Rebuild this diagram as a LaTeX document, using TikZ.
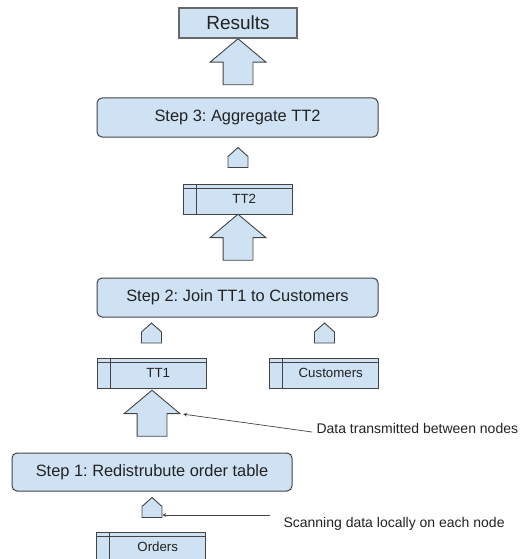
\documentclass[tikz,border=0pt]{standalone}
\usepackage{fontspec}
\setmainfont{Liberation Sans}
\frenchspacing
\usetikzlibrary{shapes.arrows}
\definecolor{boxblue}{HTML}{CFE2F3}
\definecolor{edgegray}{HTML}{434343}
\definecolor{textgray}{HTML}{222222}

\tikzset{
	stepbox/.style={draw=edgegray, fill=boxblue, line width=1pt, rounded corners=5pt,
		minimum width=281pt, minimum height=39pt, text=textgray,
		font=\fontsize{16.4}{19}\selectfont},
	tablebox/.style={draw=edgegray, fill=boxblue, line width=0.9pt,
		minimum width=109pt, minimum height=30pt, text=textgray,
		font=\fontsize{13.3}{16}\selectfont},
	bigup/.style={single arrow, shape border rotate=90, draw=edgegray, fill=boxblue,
		line width=0.9pt, inner sep=14.5pt, minimum height=46pt, minimum width=55pt,
		single arrow head extend=13pt, single arrow tip angle=100},
	smallup/.style={single arrow, shape border rotate=90, draw=edgegray, fill=boxblue,
		line width=0.9pt, inner sep=0pt, minimum height=20pt, minimum width=20pt,
		single arrow head extend=0pt, single arrow tip angle=96},
	note/.style={anchor=west, text=textgray, font=\fontsize{14}{17}\selectfont},
}

\begin{document}
\begin{tikzpicture}[>=stealth, x=1pt, y=-1pt]
	\useasboundingbox (0,0) rectangle (522,559);

	\node[draw=edgegray!80, fill=boxblue, line width=1.3pt, minimum width=118pt, minimum height=30pt,
		text=textgray, font=\fontsize{19}{22}\selectfont] (results) at (238,23) {Results};
	\node[bigup] (up1) at (238,68) {};

	\node[stepbox] (aggr) at (237.5,117.5) {Step 3: Aggregate TT2};
	\node[smallup] (scan4) at (238,162) {};
	\node[tablebox] (tt2) at (237.5,199) {\hspace*{13.5pt}TT2};
	\node[bigup] (up2) at (238,243.5) {};

	\node[stepbox] (join) at (237.5,297.5) {Step 2: Join TT1 to Customers};
	\node[smallup] (scan2) at (151.5,337.5) {};
	\node[smallup] (scan3) at (324.5,337.5) {};
	\node[tablebox] (tt1) at (151.5,373) {\hspace*{13.5pt}TT1};
	\node[tablebox] (cust) at (324,373) {\hspace*{13.5pt}Customers};
	\node[bigup] (up3) at (152,419.5) {};

	\node[stepbox, minimum width=280pt, minimum height=38pt] (redist) at (152,472) {Step 1: Redistrubute order table};
	\node[smallup] (scan1) at (152,512) {};
	\node[tablebox] (orders) at (151,547) {\hspace*{13.5pt}Orders};

	% table header lines
	\foreach \t in {tt2,tt1,cust,orders}{
		\draw[edgegray, line width=0.9pt] ([xshift=13.5pt]\t.north west) -- ([xshift=13.5pt]\t.south west);
		\draw[edgegray, line width=0.9pt] ([yshift=-5pt]\t.north west) -- ([yshift=-5pt]\t.north east);
	}

	% notes
	\node[note] (sent) at (313,428) {Data transmitted between nodes};
	\node[note] (local) at (280,524) {Scanning data locally on each node};
	\coordinate (sentstart) at (312,432);
	\coordinate (localstart) at (270,515);
	\draw[->, edgegray, line width=0.7pt] (sentstart) -- ([xshift=2pt]up3.after tip);
	\draw[->, edgegray, line width=0.7pt] (localstart) -- (scan1.east |- localstart);
\end{tikzpicture}
\end{document}
